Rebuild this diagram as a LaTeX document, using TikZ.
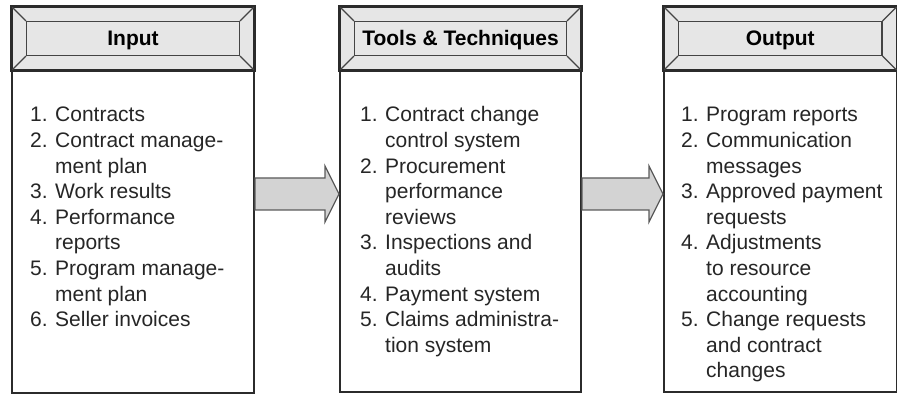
\documentclass[tikz,border=0pt]{standalone}
\usepackage{fontspec}
\setmainfont{Liberation Sans}
\usetikzlibrary{calc}
\definecolor{edge}{HTML}{2B2B2B}
\definecolor{bevel}{HTML}{444444}
\definecolor{hdrfill}{HTML}{E6E6E6}
\definecolor{arrfill}{HTML}{D3D3D3}
\definecolor{arredge}{HTML}{5A5A5A}
\definecolor{bodytext}{HTML}{262626}
\newcommand{\itm}[2]{\makebox[25pt][l]{#1}#2}
\begin{document}
\begin{tikzpicture}[x=1pt,y=1pt,
  colbox/.style={draw=edge, line width=2pt, fill=white, inner sep=0pt, anchor=south west},
  hdrbox/.style={draw=edge, line width=2pt, fill=hdrfill, inner sep=0pt, anchor=north, minimum height=63pt},
  panel/.style={draw=bevel, line width=1.2pt, fill=hdrfill, inner sep=0pt, minimum height=34pt,
    font=\fontsize{21}{25}\selectfont\bfseries, text height=15pt, text depth=0pt},
  bevelline/.style={draw=bevel, line width=1.2pt},
  bodylist/.style={anchor=base west, inner sep=0pt, text=bodytext, font=\fontsize{21}{25.6}\selectfont},
  blockarrow/.style={draw=arredge, line width=1.2pt, fill=arrfill, line join=miter}
]
\useasboundingbox (0,0) rectangle (897,396);

% column boxes
\node[colbox, minimum width=242pt, minimum height=386pt] (in) at (11,2) {};
\node[colbox, minimum width=241pt, minimum height=385pt] (tt) at (339,3) {};
\node[colbox, minimum width=232.5pt, minimum height=385pt] (out) at (663,3) {};

% headers
\foreach \b/\w/\lbl in {in/242/Input, tt/241/{Tools \& Techniques}, out/232.5/Output}{
  \node[hdrbox, minimum width=\w pt] (\b h) at (\b.north) {};
  \node[panel, minimum width=\w pt-29pt] (\b p) at (\b h.center) {\lbl};
  \draw[bevelline] (\b h.north west) -- (\b p.north west);
  \draw[bevelline] (\b h.north east) -- (\b p.north east);
  \draw[bevelline] (\b h.south west) -- (\b p.south west);
  \draw[bevelline] (\b h.south east) -- (\b p.south east);
  \draw[draw=edge, line width=2pt] (\b h.north west) rectangle (\b h.south east);
}

% block arrows
\draw[blockarrow] ($(in.east)+(0,22)$) -- ($(tt.west)+(-14,21.5)$) -- ($(tt.west)+(-14,33.5)$)
  -- ($(tt.west)+(0,5.5)$) -- ($(tt.west)+(-14,-22.5)$) -- ($(tt.west)+(-14,-10.5)$)
  -- ($(in.east)+(0,-10)$) -- cycle;
\draw[blockarrow] ($(tt.east)+(0,21.5)$) -- ($(out.west)+(-14,21.5)$) -- ($(out.west)+(-14,33.5)$)
  -- ($(out.west)+(0,5.5)$) -- ($(out.west)+(-14,-22.5)$) -- ($(out.west)+(-14,-10.5)$)
  -- ($(tt.east)+(0,-10.5)$) -- cycle;

% lists
\node[bodylist] (inlist) at (30,274) {\begin{tabular}[t]{@{}l@{}}
\itm{1.}{Contracts}\\
\itm{2.}{Contract manage-}\\
\itm{}{ment plan}\\
\itm{3.}{Work results}\\
\itm{4.}{Performance}\\
\itm{}{reports}\\
\itm{5.}{Program manage-}\\
\itm{}{ment plan}\\
\itm{6.}{Seller invoices}
\end{tabular}};

\node[bodylist] (ttlist) at (360,274) {\begin{tabular}[t]{@{}l@{}}
\itm{1.}{Contract change}\\
\itm{}{control system}\\
\itm{2.}{Procurement}\\
\itm{}{performance}\\
\itm{}{reviews}\\
\itm{3.}{Inspections and}\\
\itm{}{audits}\\
\itm{4.}{Payment system}\\
\itm{5.}{Claims administra-}\\
\itm{}{tion system}
\end{tabular}};

\node[bodylist] (outlist) at (681,274) {\begin{tabular}[t]{@{}l@{}}
\itm{1.}{Program reports}\\
\itm{2.}{Communication}\\
\itm{}{messages}\\
\itm{3.}{Approved payment}\\
\itm{}{requests}\\
\itm{4.}{Adjustments}\\
\itm{}{to resource}\\
\itm{}{accounting}\\
\itm{5.}{Change requests}\\
\itm{}{and contract}\\
\itm{}{changes}
\end{tabular}};
\end{tikzpicture}
\end{document}
